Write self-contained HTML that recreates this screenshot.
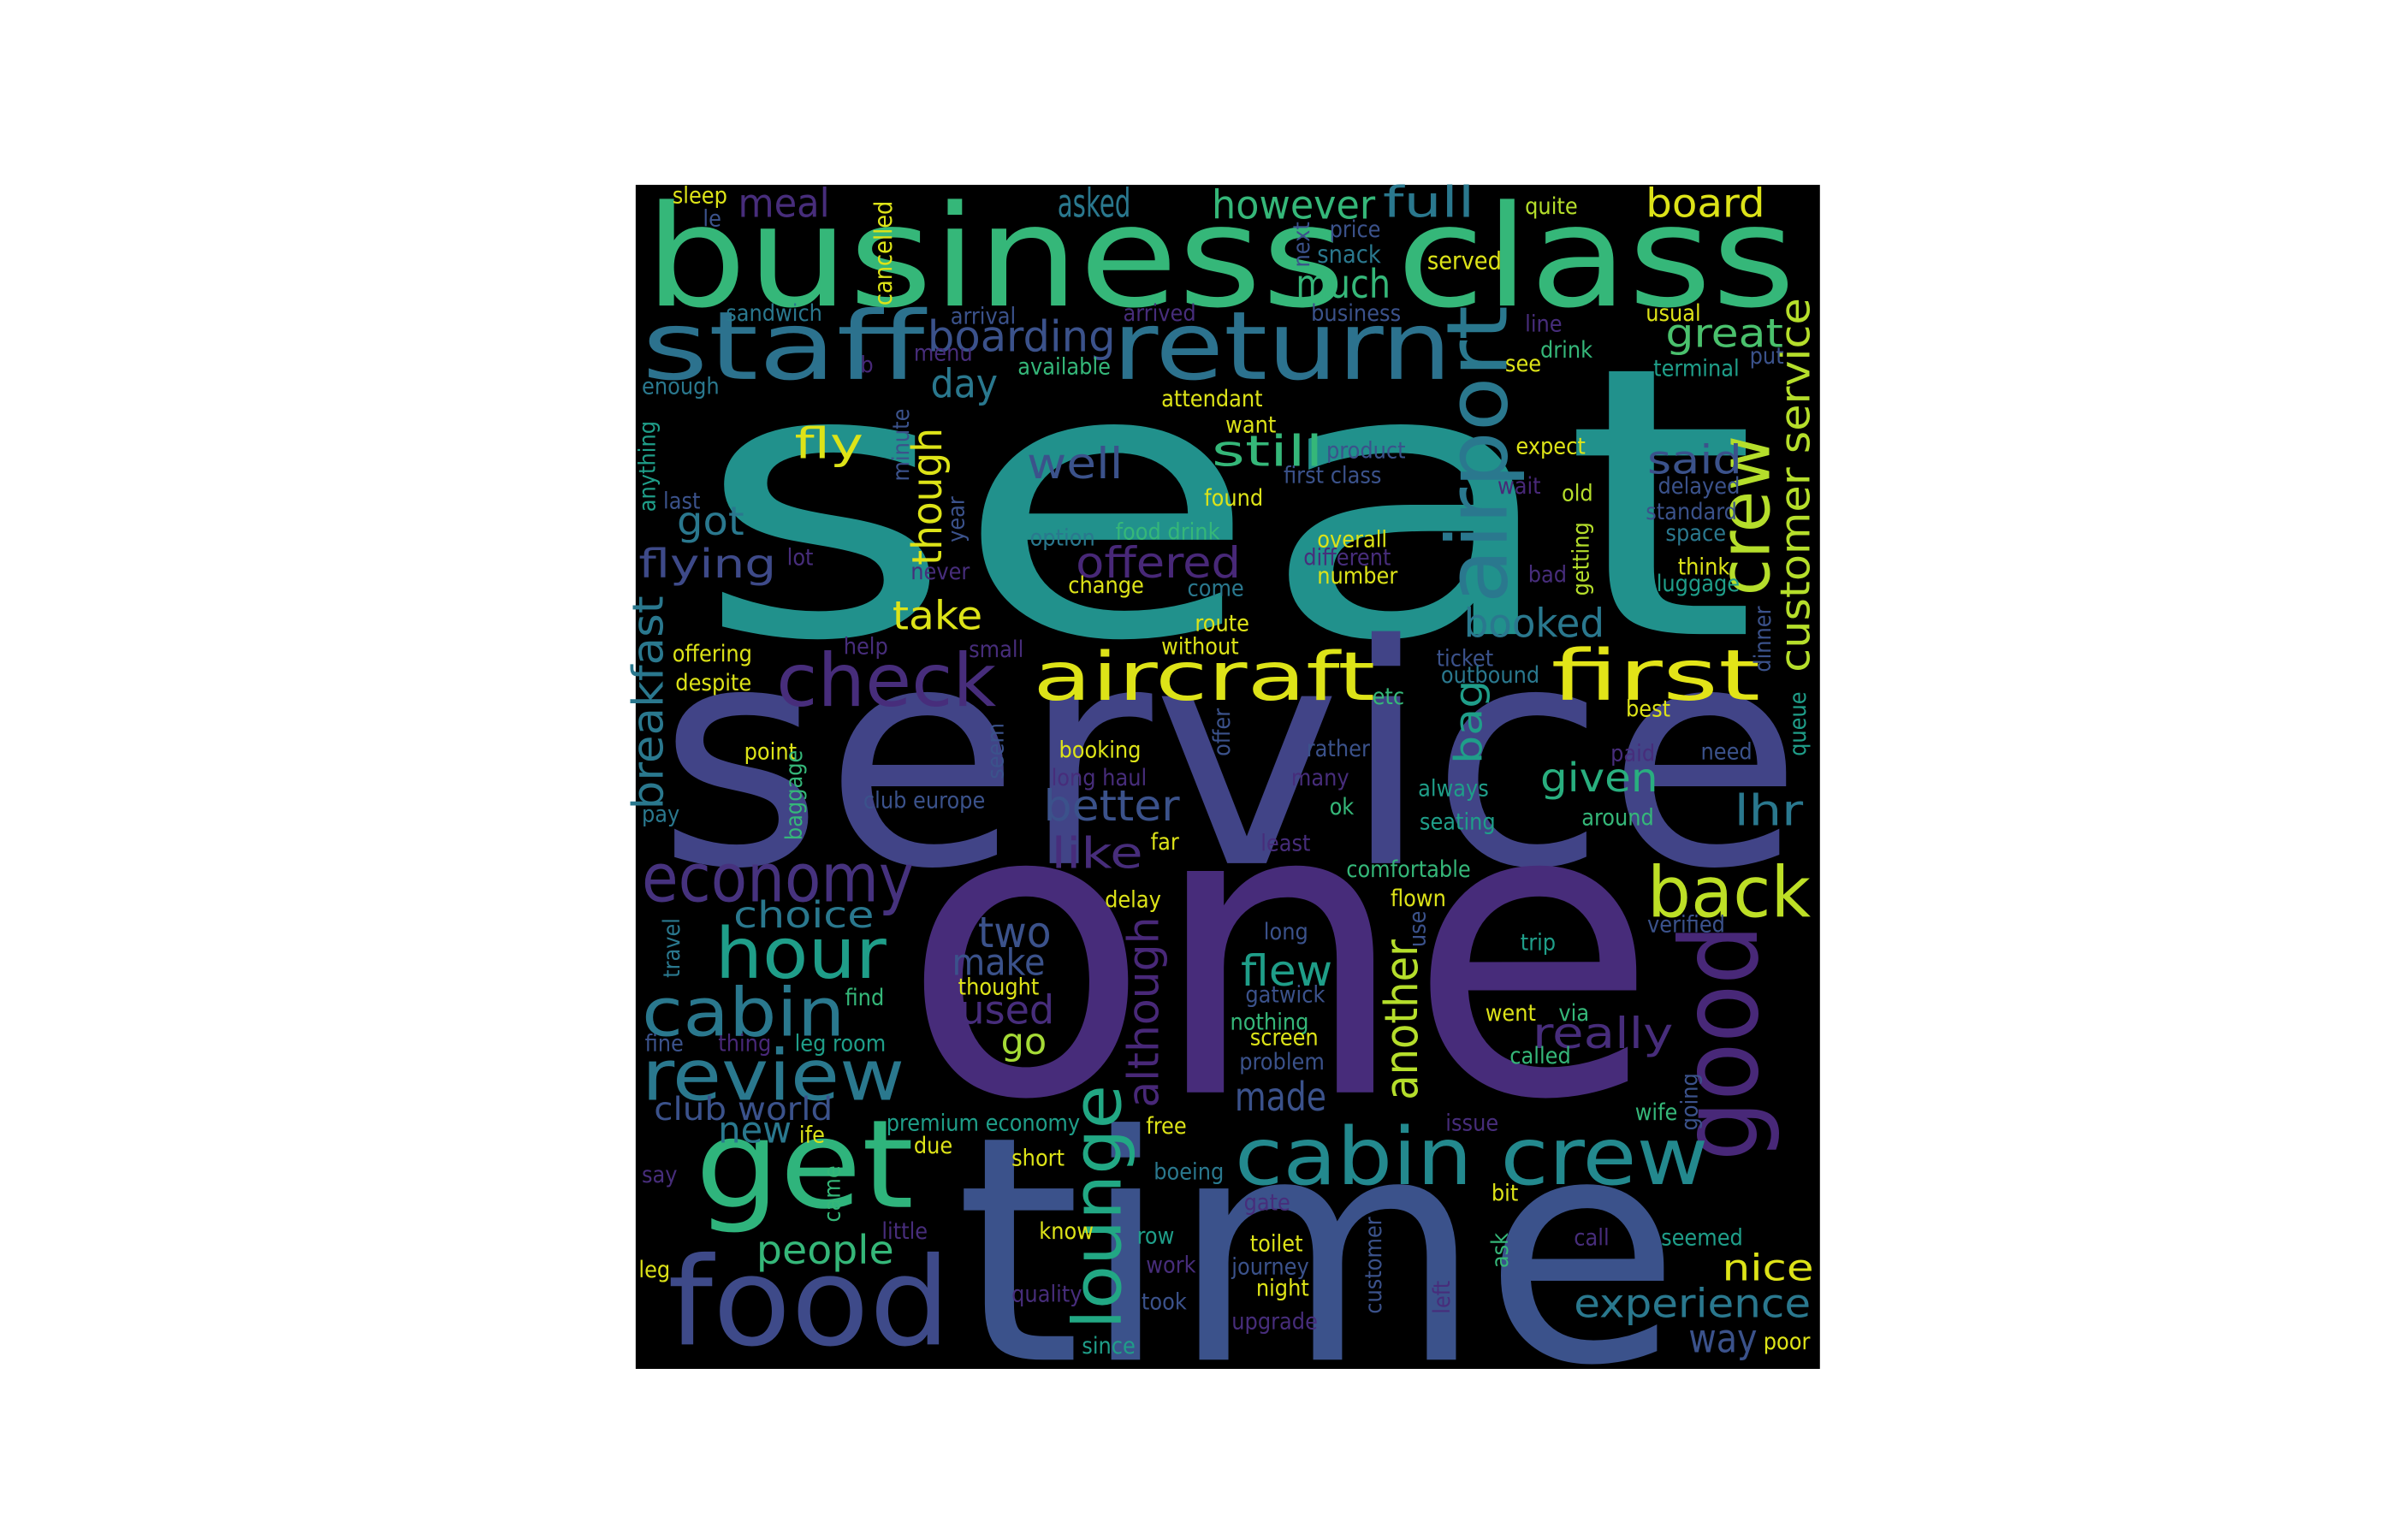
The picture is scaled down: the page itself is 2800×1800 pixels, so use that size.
<!DOCTYPE html>
<html><head><meta charset="utf-8">
<style>
html,body{margin:0;padding:0;background:#fff;width:2800px;height:1800px;overflow:hidden}
svg{display:block}
text{font-family:"DejaVu Sans Condensed","DejaVu Sans","Liberation Sans",sans-serif}
</style></head>
<body>
<svg id="cloud" width="2800" height="1800" viewBox="0 0 1568 1008" preserveAspectRatio="xMinYMin meet" xmlns="http://www.w3.org/2000/svg">
<rect x="416" y="121" width="775" height="775" fill="#000"/>
<g id="words"></g>
</svg>
<script>
// word-cloud data: words and their weights (font size)
const words = ["seat","service","one","time","business class","staff","return","check","aircraft","first","airport","crew","customer service","good","back","economy","hour","cabin","review","get","food","cabin crew","lounge","although","another","bag","breakfast","though","experience","nice","way","lhr","given","really","made","flew","better","like","two","make","used","go","people","new","club world","choice","take","flying","got","fly","meal","asked","however","full","board","boarding","much","great","day","well","still","offered","booked","said",
"sleep","le","cancelled","next","price","quite","snack","served","business","sandwich","arrival","arrived","line","usual","menu","b","drink","see","put","available","terminal","enough","attendant","want","anything","minute","expect","product","found","first class","wait","old","delayed","last","year","standard","option","food drink","overall","getting","space","lot","never","come","different","number","bad","think","luggage","change","dinner","route","offering","help","small","without","ticket","outbound","despite","etc","best","queue","offer","point","seem","booking","rather","paid","need","baggage","long haul","many","club europe","always","ok","pay","seating","around","least","far","comfortable","use","delay","flown","verified","travel","long","trip","thought","find","gatwick","fine","thing","leg room","nothing","went","via","screen","called","problem","going","wife","premium economy","ife","free","issue","due","short","boeing","say","came","gate","bit","little","know","row","ask","call","seemed","toilet","customer","work","journey","leg","night","left","quality","took","upgrade","since","poor"];
const weights = [245,200,265,205,92,62,62,48,44,46,55,46,27,70,46,44,46,44,46,80,80,52,44,28,30,25,28,27,26,24,26,28,26,28,26,28,28,28,28,24,26,24,26,24,21,24,26,26,26,28,26,26,26,28,26,28,26,26,26,28,28,28,26,26,
15,15,16,15,15,15,16,16,15,15,15,15,15,15,15,15,15,15,15,15,15,15,15,15,15,15,15,15,15,15,15,15,15,15,15,15,15,15,15,15,15,15,15,15,15,15,15,15,15,15,15,15,15,15,15,15,15,15,15,15,15,15,15,15,15,15,15,15,15,15,15,15,15,15,15,15,15,15,15,15,15,15,15,15,15,15,15,15,15,15,15,15,15,15,15,15,15,15,15,15,15,15,15,15,15,15,15,15,15,15,15,15,15,15,15,15,15,15,15,15,15,15,15,15,15,15,15,15,15,15,15,15,15];
const colors = ["#21918c","#414487","#472c7a","#3b528b","#35b779","#2c728e","#2c728e","#472d7b","#dde318","#e2e418","#2a788e","#b5de2b","#b5de2b","#482878","#bddf26","#46327e","#1f9e89","#2a788e","#2a788e","#2fb47c","#3e4a89","#23898e","#22a884","#482878","#b5de2b","#1f9e89","#2a788e","#dde318","#2a788e","#dde318","#3b528b","#2a788e","#29af7f","#472d7b","#3b528b","#1f9e89","#3b528b","#472d7b","#3b528b","#3b528b","#472d7b","#a5db36","#35b779","#2a788e","#3b528b","#2a788e","#dde318","#3e4a89","#2a788e","#dde318","#472d7b","#2a788e","#35b779","#2a788e","#dde318","#3b528b","#35b779","#4ac16d","#2a788e","#3b528b","#35b779","#482878","#2a788e","#3b528b",
"#dde318","#3b528b","#dde318","#3b528b","#3b528b","#b5de2b","#2a788e","#dde318","#3b528b","#2a788e","#3b528b","#472d7b","#472d7b","#dde318","#472d7b","#482878","#35b779","#dde318","#3b528b","#35b779","#1f9e89","#2a788e","#dde318","#dde318","#1f9e89","#3b528b","#dde318","#3b528b","#dde318","#3b528b","#482878","#b5de2b","#3b528b","#3b528b","#3b528b","#3b528b","#2a788e","#35b779","#dde318","#b5de2b","#2a788e","#472d7b","#472d7b","#2a788e","#472d7b","#dde318","#472d7b","#dde318","#1f9e89","#dde318","#3b528b","#dde318","#dde318","#472d7b","#472d7b","#dde318","#3b528b","#2a788e","#dde318","#35b779","#dde318","#1f9e89","#3b528b","#dde318","#3b528b","#dde318","#3b528b","#472d7b","#3b528b","#35b779","#472d7b","#472d7b","#3b528b","#1f9e89","#35b779","#2a788e","#1f9e89","#35b779","#472d7b","#dde318","#35b779","#3b528b","#dde318","#dde318","#3b528b","#2a788e","#3b528b","#1f9e89","#dde318","#35b779","#3b528b","#3b528b","#482878","#1f9e89","#35b779","#dde318","#35b779","#dde318","#35b779","#3b528b","#3b528b","#35b779","#1f9e89","#dde318","#dde318","#472d7b","#dde318","#dde318","#2a788e","#472d7b","#35b779","#472d7b","#dde318","#472d7b","#dde318","#1f9e89","#35b779","#472d7b","#1f9e89","#dde318","#3b528b","#472d7b","#3b528b","#dde318","#dde318","#472d7b","#472d7b","#3b528b","#472d7b","#1f9e89","#dde318"];
// layout (placement output of the cloud algorithm): x, baseline y, vertical flag, forced width
const layoutX = [455,430,590,625,422,420,728,508,676,1015,998,1168,1190,1165,1078,420,468,420,420,455,437,808,743,764,934,975,440,622,1030,1127,1105,1135,1008,1003,808,812,683,688,640,623,628,655,495,470,428,480,584,418,443,520,483,692,793,905,1077,607,848,1090,609,672,793,704,958,1078,
440,460,587,860,870,998,862,934,858,475,622,735,998,1077,598,563,1008,985,1145,666,1082,420,760,802,432,598,992,868,788,840,980,1022,1085,434,634,1077,674,730,862,1043,1090,515,596,777,853,862,1000,1098,1084,699,1162,782,440,552,634,760,940,943,442,898,1064,1185,808,487,660,693,855,1054,1113,528,688,845,565,928,870,420,929,1035,825,753,881,936,723,910,1078,448,827,995,627,553,815,422,470,520,805,972,1020,818,988,811,1114,1070,580,523,750,946,598,662,755,420,553,814,976,577,680,744,990,1030,1087,818,907,750,806,418,822,952,662,747,806,708,1154];
const layoutY = [415,565,715,890,200,248,248,462,458,458,395,390,440,760,600,590,640,678,720,790,880,775,870,725,720,500,530,370,862,838,885,540,518,686,727,645,537,568,620,638,670,690,827,748,733,607,412,378,350,300,142,142,143,142,142,230,195,227,260,313,305,378,417,310,
133,148,200,175,155,140,172,176,210,210,212,210,217,210,236,244,234,243,238,245,246,258,266,283,335,315,297,300,331,316,323,328,323,333,355,340,357,353,358,390,354,370,379,390,370,382,381,376,387,388,440,413,433,428,430,428,436,447,452,461,469,495,495,497,510,496,495,498,497,550,514,514,529,521,533,538,543,540,557,556,574,620,594,593,610,640,615,622,651,658,656,688,688,688,674,668,668,684,696,700,740,733,740,748,742,740,755,763,772,774,800,792,786,811,811,814,830,815,815,819,860,833,834,836,848,860,852,857,870,886,883];
const vertical = [0,0,0,0,0,0,0,0,0,0,1,1,1,1,0,0,0,0,0,0,0,0,1,1,1,1,1,1,0,0,0,0,0,0,0,0,0,0,0,0,0,0,0,0,0,0,0,0,0,0,0,0,0,0,0,0,0,0,0,0,0,0,0,0,
0,0,1,1,0,0,0,0,0,0,0,0,0,0,0,0,0,0,0,0,0,0,0,0,1,1,0,0,0,0,0,0,0,0,1,0,0,0,0,1,0,0,0,0,0,0,0,0,0,0,1,0,0,0,0,0,0,0,0,0,0,1,1,0,1,0,0,0,0,1,0,0,0,0,0,0,0,0,0,0,0,1,0,0,0,1,0,0,0,0,0,0,0,0,0,0,0,0,0,0,1,0,0,0,0,0,0,0,0,0,1,0,0,0,0,0,1,0,0,0,1,0,0,0,0,1,0,0,0,0,0];
const forcedLen = [695,750,495,475,753,185,222,144,224,137,195,105,245,155,107,178,112,133,172,143,185,310,160,125,105,55,140,90,155,60,45,45,77,92,60,60,89,60,48,61,62,30,90,48,117,92,59,90,44,45,60,48,107,60,78,123,62,77,44,63,73,108,92,62];

const g = document.getElementById('words');
const NS = 'http://www.w3.org/2000/svg';
for (let i = 0; i < words.length; i++) {
  const t = document.createElementNS(NS, 'text');
  
  
  const fs = weights[i];
  t.setAttribute('font-size', fs);
  t.setAttribute('fill', colors[i] || '#21918c');
  const len = forcedLen[i];
  if (len) { t.setAttribute('textLength', len); t.setAttribute('lengthAdjust', 'spacingAndGlyphs'); }
  if (vertical[i]) {
    const bx = layoutX[i] - fs * 0.22;
    t.setAttribute('transform', 'translate(' + bx + ',' + layoutY[i] + ') rotate(-90)');
  } else {
    t.setAttribute('x', layoutX[i]);
    t.setAttribute('y', layoutY[i]);
  }
  t.textContent = words[i];
  g.appendChild(t);
}
</script>
</body></html>
